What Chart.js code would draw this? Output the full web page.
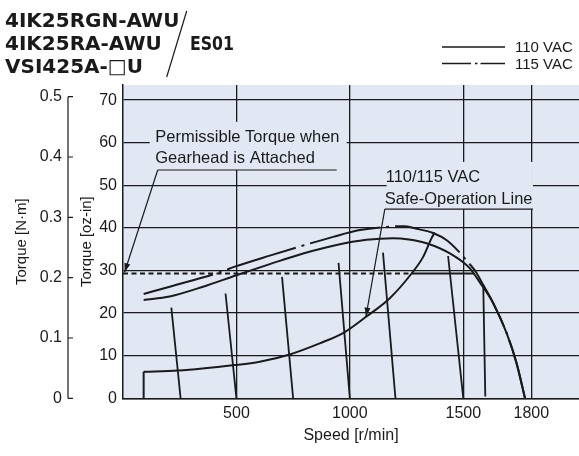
<!DOCTYPE html>
<html>
<head>
<meta charset="utf-8">
<script src="https://cdn.jsdelivr.net/npm/chart.js@4.4.1/dist/chart.umd.min.js"></script>
<style>
  html, body { margin: 0; padding: 0; background: #fff; }
  #wrap { width: 579px; height: 456px; }
</style>
</head>
<body>
<div id="wrap"><canvas id="torqueChart" width="579" height="456"></canvas></div>
<script>
// speed [r/min] / torque [oz-in]
const speed110 = [91, 206, 353, 500, 647, 794, 941, 1073, 1190, 1260, 1338, 1441, 1529, 1573, 1632, 1691, 1735, 1772];
const torque110 = [23.1, 23.9, 26.2, 28.9, 31.5, 34.0, 36.0, 37.2, 37.6, 37.3, 36.4, 34.0, 30.5, 27.2, 22.3, 15.3, 8.2, 0];

const speed115 = [91, 206, 427, 493, 647, 809, 926, 1044, 1176, 1240, 1286, 1367, 1430, 1481, 1520, 1555, 1588, 1620, 1650, 1691, 1735, 1772];
const torque115 = [24.5, 26.2, 29.6, 30.9, 33.5, 36.1, 37.9, 39.5, 40.3, 40.4, 39.9, 38.8, 37.0, 34.4, 32.0, 29.7, 26.6, 23.6, 20.3, 15.3, 8.2, 0];

// safe-operation line (first two points = vertical start)
const safeSpeed = [91, 91, 242, 492, 603, 735, 867, 970, 1073, 1176, 1272, 1323, 1360, 1374];
const safeTorque = [0, 6.24, 6.5, 7.8, 8.6, 10.3, 12.9, 15.3, 19.2, 23.5, 29.3, 33.2, 37.6, 38.9];

// permissible torque with gearhead
const permTorque = 29.3;
const permDashEnd = 1272;
const permSolidEnd = 1548;

// short speed-regulation lines
const regTopSpeed = [213, 452, 701, 950, 1146, 1433, 1588];
const regTopTorque = [21.3, 24.6, 28.5, 31.8, 34.2, 33.4, 26.6];
const regBottomSpeed = [254, 500, 750, 1000, 1201, 1500, 1597];
const regBottomTorque = [0, 0, 0, 0, 0, 0, 0.4];

const speedTicks = [500, 1000, 1500, 1800];
const ozTicks = [0, 10, 20, 30, 40, 50, 60, 70];
const nmTicks = [0, 0.1, 0.2, 0.3, 0.4, 0.5];

const OZ_PER_NM = 141.612;
const SPEED_MAX = 2010;
const OZ_MAX = 73.55;

const FONT = "'Liberation Sans', Arial, sans-serif";
const INK = '#1a1a1a';
const PLOT_BG = 'rgb(225, 232, 244)';
const DASH_DOT = [72, 6, 3, 6];

function pts(xs, ys) {
    return xs.map((x, i) => ({ x: x, y: ys[i] }));
}

function curve(label, data, extra) {
    return Object.assign({
        label: label,
        data: data,
        showLine: true,
        pointRadius: 0,
        borderColor: INK,
        borderWidth: 2,
        fill: false
    }, extra || {});
}

const datasets = [
    curve('110 VAC', pts(speed110, torque110), { cubicInterpolationMode: 'monotone' }),
    curve('115 VAC', pts(speed115, torque115), { cubicInterpolationMode: 'monotone', borderDash: DASH_DOT }),
    curve('safe-start', pts(safeSpeed.slice(0, 2), safeTorque.slice(0, 2))),
    curve('Safe-Operation Line', pts(safeSpeed.slice(1), safeTorque.slice(1)), { cubicInterpolationMode: 'monotone' }),
    curve('Permissible Torque', [{ x: 0, y: permTorque }, { x: permDashEnd, y: permTorque }], { borderDash: [5, 3.5] }),
    curve('Permissible Torque (safe)', [{ x: permDashEnd, y: permTorque }, { x: permSolidEnd, y: permTorque }])
];
regTopSpeed.forEach((s, i) => {
    datasets.push(curve('reg ' + i, [{ x: s, y: regTopTorque[i] }, { x: regBottomSpeed[i], y: regBottomTorque[i] }], { borderWidth: 1.8 }));
});

function arrow(c, x1, y1, x2, y2) {
    c.beginPath();
    c.moveTo(x1, y1);
    c.lineTo(x2, y2);
    c.stroke();
    const a = Math.atan2(y2 - y1, x2 - x1);
    const len = 9, half = 3;
    c.beginPath();
    c.moveTo(x2, y2);
    c.lineTo(x2 - len * Math.cos(a) + half * Math.sin(a), y2 - len * Math.sin(a) - half * Math.cos(a));
    c.lineTo(x2 - len * Math.cos(a) - half * Math.sin(a), y2 - len * Math.sin(a) + half * Math.cos(a));
    c.closePath();
    c.fill();
}

const decor = {
    id: 'decor',
    beforeDraw(chart) {
        const c = chart.ctx, a = chart.chartArea;
        c.save();
        c.fillStyle = '#fff';
        c.fillRect(0, 0, chart.width, chart.height);
        c.fillStyle = PLOT_BG;
        c.fillRect(a.left, a.top, a.right - a.left, a.bottom - a.top);
        c.restore();
    },
    beforeDatasetsDraw(chart) {
        // label boxes hide the grid behind the notes
        const c = chart.ctx, x = chart.scales.x, y = chart.scales.y;
        c.save();
        c.fillStyle = PLOT_BG;
        const box = (s0, s1, t0, t1) => {
            const px0 = x.getPixelForValue(s0), px1 = x.getPixelForValue(s1);
            const py0 = y.getPixelForValue(t1), py1 = y.getPixelForValue(t0);
            c.fillRect(px0, py0, px1 - px0, py1 - py0);
        };
        box(118, 986, 53.6, 64.9);
        box(1162, 1807, 44.4, 55.5);
        c.restore();
    },
    afterDraw(chart) {
        const c = chart.ctx, x = chart.scales.x, y = chart.scales.y, y2 = chart.scales.y2;
        const X = v => x.getPixelForValue(v), Y = v => y.getPixelForValue(v);
        c.save();
        c.strokeStyle = INK;
        c.fillStyle = INK;

        // N·m axis line with inward ticks
        c.lineWidth = 1.2;
        const ax = y2.right;
        c.beginPath();
        c.moveTo(ax, y2.getPixelForValue(0.5));
        c.lineTo(ax, y2.getPixelForValue(0));
        nmTicks.forEach(v => {
            const py = y2.getPixelForValue(v);
            c.moveTo(ax, py);
            c.lineTo(ax + 5, py);
        });
        c.stroke();

        // notes
        c.font = '16.5px ' + FONT;
        c.textBaseline = 'alphabetic';
        c.textAlign = 'left';
        c.fillText('Permissible Torque when', X(142), Y(60.2));
        c.fillText('Gearhead is Attached', X(142), Y(55.2));
        c.fillText('110/115 VAC', X(1158), Y(50.7));
        c.fillText('Safe-Operation Line', X(1154), Y(45.5));

        c.lineWidth = 1.2;
        c.beginPath();
        c.moveTo(X(153), Y(53.6));
        c.lineTo(X(942), Y(53.6));
        c.moveTo(X(1154), Y(44.4));
        c.lineTo(X(1807), Y(44.4));
        c.stroke();
        arrow(c, X(153), Y(53.6), X(7), Y(29.6));
        arrow(c, X(1154), Y(44.4), X(1071), Y(19.2));

        // legend
        c.lineWidth = 1.6;
        c.beginPath();
        c.moveTo(442, 47);
        c.lineTo(505, 47);
        c.stroke();
        c.setLineDash([29, 4, 2.5, 3]);
        c.beginPath();
        c.moveTo(442, 63.5);
        c.lineTo(505, 63.5);
        c.stroke();
        c.setLineDash([]);
        c.font = '15px ' + FONT;
        c.fillText('110 VAC', 515, 52.3);
        c.fillText('115 VAC', 515, 68.8);

        // model header
        c.font = 'bold 20px "DejaVu Sans", sans-serif';
        c.fillText('4IK25RGN-AWU', 5, 26.5);
        c.fillText('4IK25RA-AWU', 5, 49.8);
        c.fillText('VSI425A-\u25A1U', 5, 73.2);
        c.fillText('ES01', 190, 49.8, 44);
        c.lineWidth = 1.2;
        c.beginPath();
        c.moveTo(186.7, 11);
        c.lineTo(166.7, 77);
        c.stroke();
        c.restore();
    }
};

const tickFont = { family: FONT, size: 16 };
const titleFont = { family: FONT, size: 15 };

new Chart(document.getElementById('torqueChart').getContext('2d'), {
    type: 'scatter',
    data: { datasets: datasets },
    options: {
        responsive: false,
        animation: false,
        devicePixelRatio: 1,
        layout: { padding: { top: 85, left: 0, right: 0, bottom: 0 } },
        plugins: { legend: { display: false }, tooltip: { enabled: false } },
        scales: {
            x: {
                type: 'linear', position: 'bottom', min: 0, max: SPEED_MAX,
                border: { display: true, color: INK, width: 1.5 },
                grid: { color: INK, lineWidth: 1.3, drawTicks: false },
                ticks: { padding: 6, color: INK, font: tickFont, maxRotation: 0, autoSkip: false, callback: v => String(v) },
                afterBuildTicks: s => { s.ticks = speedTicks.map(v => ({ value: v })); },
                title: { display: true, text: 'Speed [r/min]', color: INK, font: { family: FONT, size: 16 }, padding: { top: 0, bottom: 11 } },
                afterFit: s => { s.height = 57.7; }
            },
            y: {
                type: 'linear', position: 'left', weight: 1, min: 0, max: OZ_MAX,
                border: { display: true, color: INK, width: 1.5 },
                grid: { color: INK, lineWidth: 1.3, drawTicks: false },
                ticks: { padding: 6, color: INK, font: tickFont, callback: v => String(v) },
                afterBuildTicks: s => { s.ticks = ozTicks.map(v => ({ value: v })); },
                title: { display: true, text: 'Torque [oz-in]', color: INK, font: titleFont, padding: { top: 10, bottom: 0 } },
                afterFit: s => { s.width = 55; }
            },
            y2: {
                type: 'linear', position: 'left', weight: 2, min: 0, max: OZ_MAX / OZ_PER_NM,
                border: { display: false },
                grid: { display: false, drawTicks: false },
                ticks: { padding: 6, color: INK, font: tickFont, callback: v => (v === 0 ? '0' : v.toFixed(1)) },
                afterBuildTicks: s => { s.ticks = nmTicks.map(v => ({ value: v })); },
                title: { display: true, text: 'Torque [N·m]', color: INK, font: titleFont, padding: { top: 13, bottom: 0 } },
                afterFit: s => { s.width = 68; }
            }
        }
    },
    plugins: [decor]
});
</script>
</body>
</html>
